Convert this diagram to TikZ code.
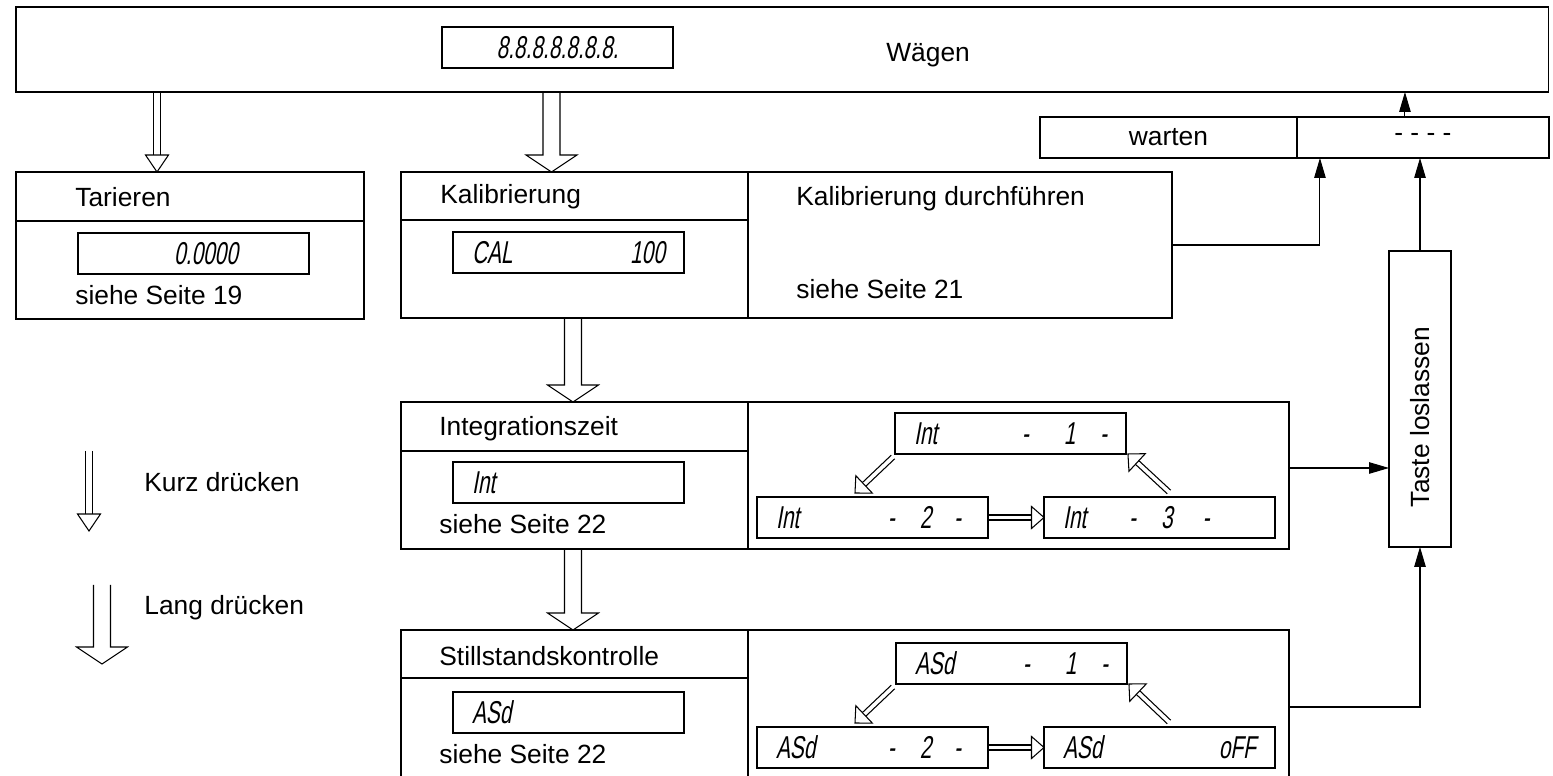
\documentclass[tikz,border=0pt]{standalone}
\usepackage{fontspec}
\setmainfont{Liberation Sans}
\newfontfamily\segfont{Liberation Sans}[FakeSlant=0.18, FakeStretch=0.66]
\usetikzlibrary{arrows.meta, positioning, calc}

% hollow key arrow, open base (long press)
\newcommand{\harrow}[5]{%
  \coordinate (ha) at #1;
  \coordinate (hb) at #2;
  \coordinate (hc) at ($(hb)!#5!(ha)$);
  \draw[hollow] ($(ha)!#3!90:(hb)$) -- ($(hc)!#3!90:(hb)$) -- ($(hc)!#4!90:(hb)$)
    -- (hb) -- ($(hc)!#4!-90:(hb)$) -- ($(hc)!#3!-90:(hb)$) -- ($(ha)!#3!-90:(hb)$);
}
% hollow key arrow, closed head (short press)
\newcommand{\tarrow}[5]{%
  \coordinate (ha) at #1;
  \coordinate (hb) at #2;
  \coordinate (hc) at ($(hb)!#5!(ha)$);
  \draw[hollow] ($(ha)!#3!90:(hb)$) -- ($(hc)!#3!90:(hb)$);
  \draw[hollow] ($(ha)!#3!-90:(hb)$) -- ($(hc)!#3!-90:(hb)$);
  \draw[hollow] ($(hc)!#4!90:(hb)$) -- (hb) -- ($(hc)!#4!-90:(hb)$) -- cycle;
}

\begin{document}
\begin{tikzpicture}[
  x=0.02cm, y=-0.02cm,
  every node/.style={font=\fontsize{15pt}{18pt}\selectfont, inner sep=0pt},
  box/.style={draw, line width=0.8pt, outer sep=0pt, anchor=north west},
  dsp/.style={draw, line width=1.1pt, outer sep=0pt, anchor=north west, minimum height=0.82cm,
    text width=3.86cm, inner xsep=0.38cm, inner ysep=0pt, align=left,
    font=\segfont\fontsize{18pt}{20pt}\selectfont},
  lbl/.style={anchor=base west},
  arr/.style={-{Triangle[length=0.4cm, width=0.23cm]}, line width=0.6pt},
  hollow/.style={line width=0.6pt, line join=miter}
]
\useasboundingbox (0,0) rectangle (1553,776);
\clip (0,0) rectangle (1553,776);

% ===== WEIGHING =====
\node[box, minimum width=30.66cm, minimum height=1.70cm] (wg) at (16,7) {};
\node[dsp, align=center] (d8) at (442,27) {8.8.8.8.8.8.8.};
\node[lbl] (twg) at (886,62) {Wägen};
\node[box, minimum width=5.14cm, minimum height=0.82cm] (wt) at (1040,117) {warten};
\node[box, minimum width=5.04cm, minimum height=0.82cm, right=0pt of wt] (wd) {- - - -};

% ===== TARE =====
\node[box, minimum width=6.96cm, minimum height=2.94cm] (tar) at (16,172) {};
\draw[line width=0.8pt] ($(tar.north west)+(0,49)$) -- ($(tar.north east)+(0,49)$);
\node[lbl] (ttar) at (75,207) {Tarieren};
\node[dsp] (dtar) at (78,233) {\hfill 0.0000\hspace{1.04cm}\null};
\node[lbl] (star) at (75,305) {siehe Seite 19};

% ===== CALIBRATION =====
\node[box, minimum width=6.94cm, minimum height=2.92cm] (kal) at (401,172) {};
\node[box, minimum width=8.48cm, minimum height=2.92cm, right=0pt of kal] (kalr) {};
\draw[line width=0.8pt] ($(kal.north west)+(0,48)$) -- ($(kal.north east)+(0,48)$);
\node[lbl] (tkal) at (440,204) {Kalibrierung};
\node[dsp] (dcal) at (453,232) {CAL\hfill 100};
\node[lbl] (tkalr) at (796,206) {Kalibrierung durchführen};
\node[lbl] (skal) at (796,299) {siehe Seite 21};

% ===== INTEGRATION TIME =====
\node[box, minimum width=6.94cm, minimum height=2.94cm] (intg) at (401,402) {};
\node[box, minimum width=10.82cm, minimum height=2.94cm, right=0pt of intg] (intr) {};
\draw[line width=0.8pt] ($(intg.north west)+(0,49)$) -- ($(intg.north east)+(0,49)$);
\node[lbl] (tint) at (439,436) {Integrationszeit};
\node[dsp] (dint) at (453,462) {Int};
\node[lbl] (sint) at (439,534) {siehe Seite 22};
\node[dsp] (i1) at (895,413) {Int\hfill-\hspace{0.7cm}1\hspace{0.49cm}-};
\node[dsp] (i2) at (757,497) {Int\hfill-\hspace{0.5cm}2\hspace{0.45cm}-\hspace{0.16cm}\null};
\node[dsp] (i3) at (1044,497) {Int\hspace{0.86cm}-\hspace{0.5cm}3\hspace{0.6cm}-};
\tarrow{($(i1.south west)+(-2,3)$)}{($(i2.north west)+(98,-4)$)}{0.05cm}{0.24cm}{0.25cm}
\tarrow{(i2.east)}{(i3.west)}{0.05cm}{0.22cm}{0.25cm}
\tarrow{($(i3.north west)+(125,-5)$)}{($(i1.south east)+(2,0)$)}{0.05cm}{0.24cm}{0.25cm}

% ===== STANDSTILL CONTROL =====
\node[box, minimum width=6.94cm, minimum height=3.2cm] (stl) at (401,630) {};
\node[box, minimum width=10.82cm, minimum height=3.2cm, right=0pt of stl] (stlr) {};
\draw[line width=0.8pt] ($(stl.north west)+(0,48)$) -- ($(stl.north east)+(0,48)$);
\node[lbl] (tstl) at (439,666) {Stillstandskontrolle};
\node[dsp] (dasd) at (453,692) {ASd};
\node[lbl] (sstl) at (439,764) {siehe Seite 22};
\node[dsp] (a1) at (896,643) {ASd\hfill-\hspace{0.7cm}1\hspace{0.49cm}-};
\node[dsp] (a2) at (757,727) {ASd\hfill-\hspace{0.5cm}2\hspace{0.45cm}-\hspace{0.16cm}\null};
\node[dsp] (a3) at (1044,727) {ASd\hfill oFF};
\tarrow{($(a1.south west)+(-3,3)$)}{($(a2.north west)+(98,-4)$)}{0.05cm}{0.24cm}{0.25cm}
\tarrow{(a2.east)}{(a3.west)}{0.05cm}{0.22cm}{0.25cm}
\tarrow{($(a3.north west)+(125,-5)$)}{($(a1.south east)+(2,0)$)}{0.05cm}{0.24cm}{0.25cm}

% ===== RELEASE KEY =====
\node[box, minimum width=1.24cm, minimum height=5.92cm] (taste) at (1389,251) {};
\node[rotate=90] (ttaste) at (1420,417) {Taste loslassen};

% ===== KEY ARROWS =====
\tarrow{($(wg.south west)+(141,0)$)}{($(tar.north west)+(141,0)$)}{0.07cm}{0.23cm}{0.34cm}
\harrow{($(wg.south west)+(535.5,0)$)}{($(kal.north west)+(150.5,0)$)}{0.17cm}{0.51cm}{0.34cm}
\harrow{($(kal.south west)+(172,0)$)}{($(intg.north west)+(172,0)$)}{0.17cm}{0.51cm}{0.34cm}
\harrow{($(intg.south west)+(172,0)$)}{($(stl.north west)+(172,0)$)}{0.17cm}{0.51cm}{0.34cm}

% ===== RETURN ARROWS =====
\coordinate (r0) at ($(wd.north west)+(108,0)$);
\draw[arr] (r0) -- (r0 |- wg.south);
\draw[arr] (kalr.east) -| ($(wd.south west)+(23,0)$);
\draw[arr] (taste.north) -- (taste.north |- wd.south);
\coordinate (r1) at ($(intr.north east)+(0,66)$);
\draw[arr] (r1) -- (r1 -| taste.west);
\coordinate (r2) at ($(stlr.north east)+(0,77)$);
\draw[arr] (r2) -| (taste.south);

% ===== LEGEND =====
\coordinate (k1) at (89,451);
\coordinate (k2) at (89,531);
\tarrow{(k1)}{(k2)}{0.07cm}{0.23cm}{0.34cm}
\node[lbl] (tkurz) at (144,492) {Kurz drücken};
\coordinate (l1) at (102,585);
\coordinate (l2) at (102,664);
\harrow{(l1)}{(l2)}{0.17cm}{0.51cm}{0.34cm}
\node[lbl] (tlang) at (144,615) {Lang drücken};
\end{tikzpicture}
\end{document}
